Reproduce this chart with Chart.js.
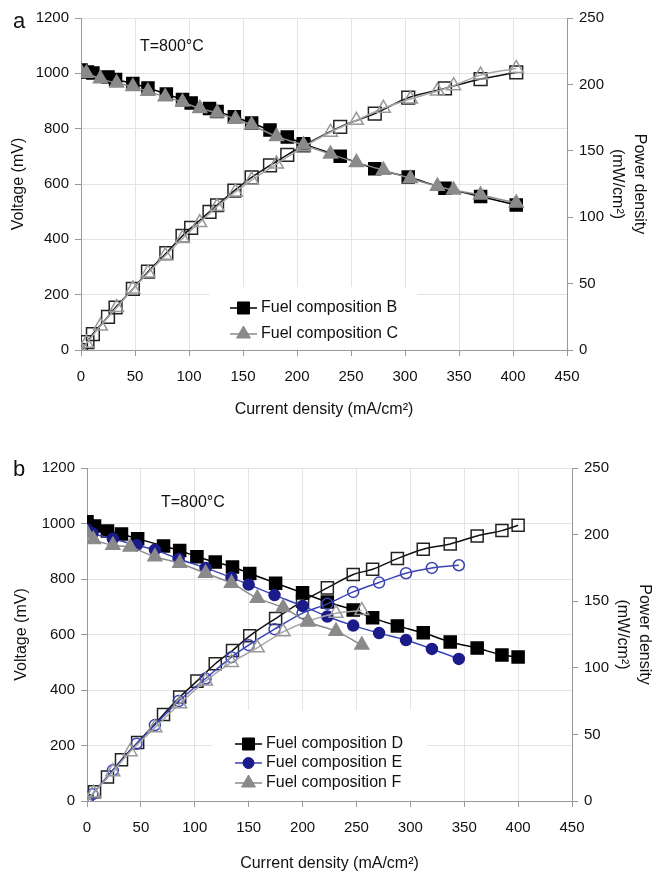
<!DOCTYPE html>
<html>
<head>
<meta charset="utf-8">
<script src="https://cdn.jsdelivr.net/npm/chart.js@4.4.0/dist/chart.umd.min.js"></script>
<style>
body{margin:0;background:#fff;}
canvas{position:absolute;left:0;}
#chartA{top:0;}
#chartB{top:430px;}
</style>
</head>
<body>
<canvas id="chartA" width="655" height="430"></canvas>
<canvas id="chartB" width="655" height="443"></canvas>
<script>
// ---- panel a ----
const xB = [0, 6, 11, 25, 32, 48, 62, 79, 94, 102, 119, 126, 142, 158, 175, 191, 206, 240, 272, 303, 337, 370, 403];
const voltB = [1012, 1005, 1001, 987, 978, 963, 947, 925, 905, 893, 873, 862, 843, 820, 795, 770, 745, 700, 655, 625, 585, 555, 524];
const powerB = [0, 6, 12, 25, 32, 46, 59, 73, 86, 92, 104, 109, 120, 130, 139, 147, 154, 168, 178, 190, 197, 204, 209];
const xC = [0, 5, 18, 33, 48, 62, 78, 94, 110, 126, 143, 158, 181, 206, 231, 255, 280, 305, 330, 345, 370, 403];
const voltC = [1005, 1000, 980, 965, 952, 935, 915, 896, 873, 857, 835, 813, 772, 741, 708, 678, 650, 620, 592, 578, 560, 531];
const powerC = [0, 5, 18, 32, 46, 58, 71, 84, 96, 108, 119, 128, 140, 153, 164, 173, 182, 189, 195, 199, 207, 212];

// ---- panel b ----
const xD = [0, 7, 19, 32, 47, 71, 86, 102, 119, 135, 151, 175, 200, 223, 247, 265, 288, 312, 337, 362, 385, 400];
const voltD = [1006, 991, 973, 962, 945, 919, 903, 880, 861, 843, 820, 785, 750, 717, 688, 660, 631, 606, 573, 551, 526, 519];
const powerD = [0, 7, 18, 31, 44, 65, 78, 90, 103, 113, 124, 137, 150, 160, 170, 174, 182, 189, 193, 199, 203, 207];
const xE = [0, 5, 24, 46, 63, 85, 110, 134, 150, 174, 200, 223, 247, 271, 296, 320, 345];
const voltE = [978, 965, 945, 922, 905, 872, 840, 805, 780, 742, 703, 665, 632, 605, 580, 548, 512];
const powerE = [0, 5, 23, 43, 57, 75, 92, 108, 117, 129, 141, 148, 157, 164, 171, 175, 177];
const xF = [0, 6, 24, 40, 63, 86, 110, 134, 158, 182, 205, 231, 255];
const voltF = [965, 942, 922, 915, 880, 857, 821, 785, 731, 697, 645, 612, 562];
const powerF = [0, 6, 22, 37, 55, 73, 90, 104, 115, 127, 135, 141, 143];

const xMax = 450, xStep = 50;
const voltMax = 1200, voltStep = 200;
const powMax = 250, powStep = 50;

const FONT = "'Liberation Sans', Arial, sans-serif";

function pts(xs, ys){ return xs.map((x,i)=>({x:x, y:ys[i]})); }

function series(label, xs, ys, axis, o){
    return Object.assign({
        label: label, data: pts(xs, ys), yAxisID: axis,
        borderWidth: 1.5, tension: 0.3, pointBorderWidth: 1.5, pointHoverRadius: 0
    }, o);
}

// legend + texts drawn on the canvas
function extras(panel, box, rows, items){
    return {
        id: 'extras' + panel,
        beforeDatasetsDraw(chart){
            const ctx = chart.ctx;
            ctx.save();
            ctx.fillStyle = '#fff';
            ctx.fillRect(box.x, box.y, box.w, box.h);
            ctx.restore();
        },
        afterDraw(chart){
            const ctx = chart.ctx;
            ctx.save();
            ctx.fillStyle = '#111';
            ctx.textBaseline = 'middle';
            ctx.font = "22px " + FONT;
            ctx.fillText(panel, box.panelX, box.panelY);
            ctx.font = "16px " + FONT;
            ctx.fillText('T=800°C', box.tX, box.tY);
            items.forEach((it, i)=>{
                const ds = chart.data.datasets[it];
                const y = rows[i];
                ctx.strokeStyle = ds.borderColor;
                ctx.lineWidth = ds.borderWidth;
                ctx.beginPath(); ctx.moveTo(box.lx0, y); ctx.lineTo(box.lx1, y); ctx.stroke();
                ctx.fillStyle = ds.pointBackgroundColor;
                ctx.strokeStyle = ds.pointBorderColor;
                ctx.lineWidth = 1;
                Chart.helpers.drawPoint(ctx, {pointStyle: ds.pointStyle, radius: ds.pointRadius, borderWidth: 1}, (box.lx0+box.lx1)/2, y);
                ctx.fillStyle = '#111';
                ctx.font = "16px " + FONT;
                ctx.fillText(ds.label, box.lx1 + 4, y);
            });
            ctx.restore();
        }
    };
}

const plain = v => String(v);

function scales(o){
    const tickFont = {family: FONT, size: 15};
    return {
        x: {
            type: 'linear', min: 0, max: xMax,
            ticks: {stepSize: xStep, font: tickFont, color: '#111', padding: 12, callback: plain},
            grid: {color: '#e4e4e4', tickLength: 6, tickColor: '#999'},
            border: {color: '#999'},
            title: {display: true, text: 'Current density (mA/cm²)', color: '#111',
                    font: {family: FONT, size: 16}, padding: {top: 0, bottom: o.xTitlePad}},
            afterFit(s){ s.height = o.xH; }
        },
        y: {
            position: 'left', min: 0, max: voltMax,
            ticks: {stepSize: voltStep, font: tickFont, color: '#111', padding: 6, callback: plain},
            grid: {color: '#e4e4e4', tickLength: 6, tickColor: '#999'},
            border: {color: '#999'},
            title: {display: true, text: 'Voltage (mV)', color: '#111',
                    font: {family: FONT, size: 16}, padding: {top: o.yTitlePad, bottom: 0}},
            afterFit(s){ s.width = o.leftW; }
        },
        y2: {
            position: 'right', min: 0, max: powMax,
            ticks: {stepSize: powStep, font: tickFont, color: '#111', padding: 6, callback: plain},
            grid: {drawOnChartArea: false, tickLength: 6, tickColor: '#999'},
            border: {color: '#999'},
            title: {display: true, text: ['Power density', '(mW/cm²)'], color: '#111',
                    font: {family: FONT, size: 16, lineHeight: 1.375}, padding: {top: o.y2TitlePad, bottom: 0}},
            afterFit(s){ s.width = o.rightW; }
        }
    };
}

const common = {
    responsive: false, animation: false, devicePixelRatio: 1,
    plugins: {legend: {display: false}, tooltip: {enabled: false}},
    events: []
};

const grayDark = '#8a8a8a', grayLight = '#a8a8a8';

new Chart(document.getElementById('chartA'), {
    type: 'line',
    data: {datasets: [
        series('Fuel composition B', xB, voltB, 'y', {borderColor: '#000', pointBackgroundColor: '#000', pointBorderColor: '#000', pointStyle: 'rect', pointRadius: 8.5, order: 2}),
        series('Fuel composition C', xC, voltC, 'y', {borderColor: grayDark, pointBackgroundColor: grayDark, pointBorderColor: grayDark, pointStyle: 'triangle', pointRadius: 8, order: 1}),
        series('Power B', xB, powerB, 'y2', {borderColor: '#111', pointBackgroundColor: 'rgba(0,0,0,0)', pointBorderColor: '#222', pointStyle: 'rect', pointRadius: 9, order: 2}),
        series('Power C', xC, powerC, 'y2', {borderColor: grayLight, pointBackgroundColor: 'rgba(0,0,0,0)', pointBorderColor: '#999', pointStyle: 'triangle', pointRadius: 8, order: 1})
    ]},
    options: Object.assign({}, common, {
        layout: {padding: {top: 18, left: 0, right: 0, bottom: 0}},
        scales: scales({xH: 80, xTitlePad: 11, leftW: 81, rightW: 88, yTitlePad: 9, y2TitlePad: 5})
    }),
    plugins: [extras('a', {x: 210, y: 287, w: 207, h: 62, lx0: 230, lx1: 257, panelX: 13, panelY: 22, tX: 140, tY: 47}, [308, 334], [0, 1])]
});

const navy = '#1b1b8a', blue = '#3b44b5';

new Chart(document.getElementById('chartB'), {
    type: 'line',
    data: {datasets: [
        series('Fuel composition D', xD, voltD, 'y', {borderColor: '#000', pointBackgroundColor: '#000', pointBorderColor: '#000', pointStyle: 'rect', pointRadius: 8.5, order: 3}),
        series('Fuel composition E', xE, voltE, 'y', {borderColor: blue, pointBackgroundColor: navy, pointBorderColor: navy, pointStyle: 'circle', pointRadius: 5.5, order: 2}),
        series('Fuel composition F', xF, voltF, 'y', {borderColor: grayDark, pointBackgroundColor: grayDark, pointBorderColor: grayDark, pointStyle: 'triangle', pointRadius: 8, order: 1}),
        series('Power D', xD, powerD, 'y2', {borderColor: '#111', pointBackgroundColor: 'rgba(0,0,0,0)', pointBorderColor: '#222', pointStyle: 'rect', pointRadius: 8.5, order: 3}),
        series('Power E', xE, powerE, 'y2', {borderColor: blue, pointBackgroundColor: 'rgba(0,0,0,0)', pointBorderColor: blue, pointStyle: 'circle', pointRadius: 5.5, order: 2}),
        series('Power F', xF, powerF, 'y2', {borderColor: grayLight, pointBackgroundColor: 'rgba(0,0,0,0)', pointBorderColor: '#999', pointStyle: 'triangle', pointRadius: 8, order: 1})
    ]},
    options: Object.assign({}, common, {
        layout: {padding: {top: 38, left: 0, right: 0, bottom: 0}},
        scales: scales({xH: 72, xTitlePad: 0, leftW: 87, rightW: 83, yTitlePad: 12, y2TitlePad: 0})
    }),
    plugins: [extras('b', {x: 212, y: 280, w: 215, h: 90, lx0: 235, lx1: 262, panelX: 13, panelY: 40, tX: 161, tY: 73}, [314, 333, 353], [0, 1, 2])]
});
</script>
</body>
</html>
